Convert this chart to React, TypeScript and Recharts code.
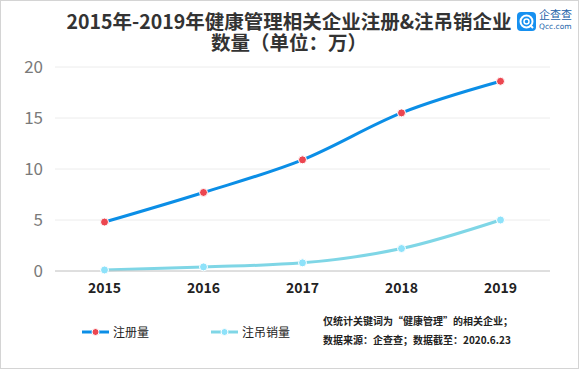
import React from "react";
import { LineChart, Line, XAxis, YAxis, CartesianGrid } from "recharts";

const years = ["2015", "2016", "2017", "2018", "2019"];
const registered = [4.8, 7.7, 10.9, 15.5, 18.6];
const cancelled = [0.1, 0.4, 0.8, 2.2, 5.0];
const yTicks = [0, 5, 10, 15, 20];

const titleLine1 = "2015年-2019年健康管理相关企业注册&注吊销企业";
const titleLine2 = "数量（单位：万）";
const regName = "注册量";
const canName = "注吊销量";
const note1 = "仅统计关键词为“健康管理”的相关企业；";
const note2 = "数据来源：企查查；数据截至：2020.6.23";

const FONT = '"Noto Sans CJK SC", "Noto Sans", sans-serif';

const BLUE = "#0b8ee6";
const RED = "#ec4650";
const CYAN = "#7fd6e6";
const CYAN_DOT = "#8ee2fa";

const chartData = years.map((y, i) => ({
    year: y,
    reg: registered[i],
    can: cancelled[i],
}));

const makeDot = (fill: string) => (props: any) => {
    const { cx, cy, index } = props;
    return <circle key={`dot-${index}`} cx={cx} cy={cy} r={4} fill={fill} stroke="#fff" strokeWidth={1} />;
};

const LegendItem = (props: { x: number; line: string; dot: string; label: string }) => (
    <div style={{ position: "absolute", left: props.x, top: 324, display: "flex", alignItems: "center" }}>
        <svg width={28} height={16}>
            <line x1={0} y1={8} x2={27} y2={8} stroke={props.line} strokeWidth={3} />
            <circle cx={13.5} cy={8} r={3.5} fill={props.dot} stroke="#fff" strokeWidth={1} />
        </svg>
        <span style={{ fontSize: 12, color: "#222", marginLeft: 3, lineHeight: "16px" }}>{props.label}</span>
    </div>
);

const titleStyle: React.CSSProperties = {
    position: "absolute", left: 0, width: 578, textAlign: "center",
    fontSize: 19.5, fontWeight: "bold", color: "#333", lineHeight: "19px", height: 19,
};

const App: React.FC = () => {
    return (
        <div style={{ position: "absolute", left: 0, top: 0, width: 580, height: 370, background: "#fff", fontFamily: FONT, overflow: "hidden" }}>
            <div style={{ position: "absolute", left: 0, top: 0, width: 579, height: 369, border: "1px solid #d4d4d4", boxSizing: "border-box" }} />
            <div style={{ ...titleStyle, top: 11 }}>{titleLine1}</div>
            <div style={{ ...titleStyle, top: 32 }}>{titleLine2}</div>
            {/* logo */}
            <div style={{ position: "absolute", left: 517, top: 12, width: 19, height: 19, background: "#1690f0", borderRadius: 4 }}>
                <svg width={19} height={19}>
                    <circle cx={9.5} cy={9.5} r={6} fill="none" stroke="#fff" strokeWidth={2} />
                    <circle cx={9.5} cy={9.5} r={2.5} fill="none" stroke="#fff" strokeWidth={1.5} />
                    <line x1={13} y1={13} x2={16} y2={16} stroke="#fff" strokeWidth={2} />
                </svg>
            </div>
            <div style={{ position: "absolute", left: 539, top: 8, fontSize: 11, color: "#1a5fa8", lineHeight: "13px" }}>企查查</div>
            <div style={{ position: "absolute", left: 539, top: 22, fontSize: 7.5, color: "#1a5fa8", lineHeight: "9px", fontFamily: "DejaVu Sans" }}>Qcc.com</div>

            <div style={{ position: "absolute", left: 0, top: 0 }}>
                <LineChart width={580} height={370} data={chartData} margin={{ top: 67, right: 30, left: 0, bottom: 69 }}>
                    <CartesianGrid vertical={false} stroke="#ececec" strokeWidth={1} />
                    <XAxis
                        dataKey="year"
                        height={30}
                        padding={{ left: 49.5, right: 49.5 }}
                        axisLine={{ stroke: "#c8c8c8", strokeWidth: 1 }}
                        tickLine={false}
                        tickSize={0}
                        tickMargin={12}
                        tick={{ fontSize: 14, fontWeight: "bold", fill: "#222", fontFamily: FONT }}
                    />
                    <YAxis
                        width={55}
                        domain={[0, 20]}
                        ticks={yTicks}
                        axisLine={false}
                        tickLine={false}
                        tickSize={0}
                        tickMargin={12}
                        tick={{ fontSize: 17, fill: "#7a7a7a", fontFamily: FONT }}
                    />
                    <Line
                        type="monotone"
                        dataKey="can"
                        name={canName}
                        stroke={CYAN}
                        strokeWidth={3}
                        dot={makeDot(CYAN_DOT)}
                        activeDot={false}
                        isAnimationActive={false}
                    />
                    <Line
                        type="monotone"
                        dataKey="reg"
                        name={regName}
                        stroke={BLUE}
                        strokeWidth={3}
                        dot={makeDot(RED)}
                        activeDot={false}
                        isAnimationActive={false}
                    />
                </LineChart>
            </div>

            <LegendItem x={82} line={BLUE} dot={RED} label={regName} />
            <LegendItem x={211} line={CYAN} dot={CYAN_DOT} label={canName} />

            <div style={{ position: "absolute", left: 323, top: 311, fontSize: 10, fontWeight: "bold", color: "#222", lineHeight: "19px" }}>
                <div>{note1}</div>
                <div>{note2}</div>
            </div>
        </div>
    );
};

export default App;
